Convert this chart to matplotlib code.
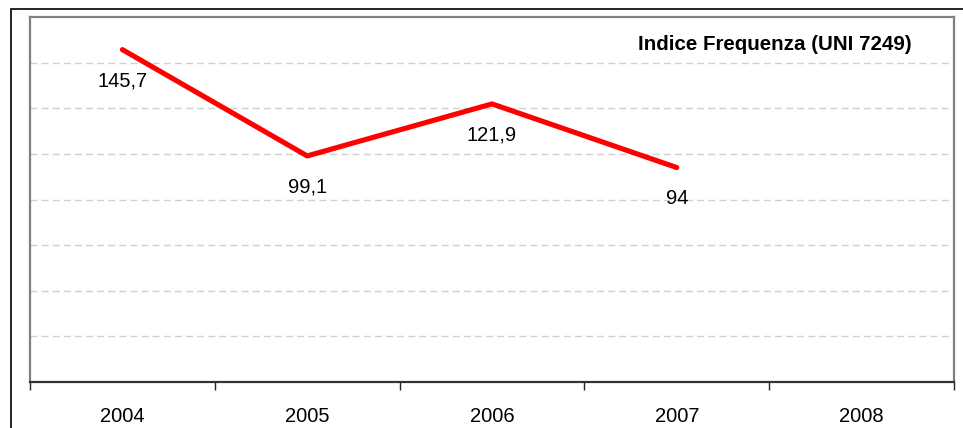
import matplotlib.pyplot as plt
from matplotlib.patches import Rectangle

plt.rcParams['font.family'] = ['Liberation Sans', 'DejaVu Sans']

years = ['2004', '2005', '2006', '2007', '2008']
values = [145.7, 99.1, 121.9, 94]
value_labels = ['145,7', '99,1', '121,9', '94']
title = 'Indice Frequenza (UNI 7249)'

fig = plt.figure(figsize=(9.63, 4.28), dpi=100)

# outer frame (clipped on right and bottom like the original)
fig.patches.append(Rectangle((11 / 963, -0.1), 1.2, 1 - 9 / 428 + 0.1,
                             transform=fig.transFigure, fill=False,
                             edgecolor='black', linewidth=1.2))

ax = fig.add_axes([30 / 963, 1 - 382 / 428, 924 / 963, 365 / 428])

x = list(range(len(values)))
ax.plot(x, values, color='#ff0000', linewidth=3.7, solid_capstyle='round',
        solid_joinstyle='round', zorder=3)

for xi, v, lab in zip(x, values, value_labels):
    ax.annotate(lab, (xi, v), xytext=(0, -31), textcoords='offset pixels',
                ha='center', va='center', fontsize=14.5)

ax.set_xlim(-0.5, len(years) - 0.5)
ax.set_ylim(0, 160)

for gy in range(20, 160, 20):
    ax.axhline(gy, color='#d0d0d0', linewidth=1, dashes=(5, 3), zorder=1)

ax.set_yticks([])
ax.set_xticks([i - 0.5 for i in range(len(years) + 1)])
ax.set_xticklabels([])
ax.set_xticks(range(len(years)), minor=True)
ax.set_xticklabels(years, minor=True, fontsize=14.5)
ax.tick_params(axis='x', which='major', direction='out', length=6,
               width=1, color='#222222')
ax.tick_params(axis='x', which='minor', length=0, pad=18)

for side in ['left', 'top', 'right']:
    ax.spines[side].set_color('#808080')
    ax.spines[side].set_linewidth(1.6)
ax.spines['bottom'].set_color('#333333')
ax.spines['bottom'].set_linewidth(1.6)

ax.text(912 / 963 * 963 / 924 - 30 / 924, 0.925, title, transform=ax.transAxes,
        ha='right', va='center', fontsize=14.8, fontweight='bold')

fig.savefig('out.png', dpi=100)
